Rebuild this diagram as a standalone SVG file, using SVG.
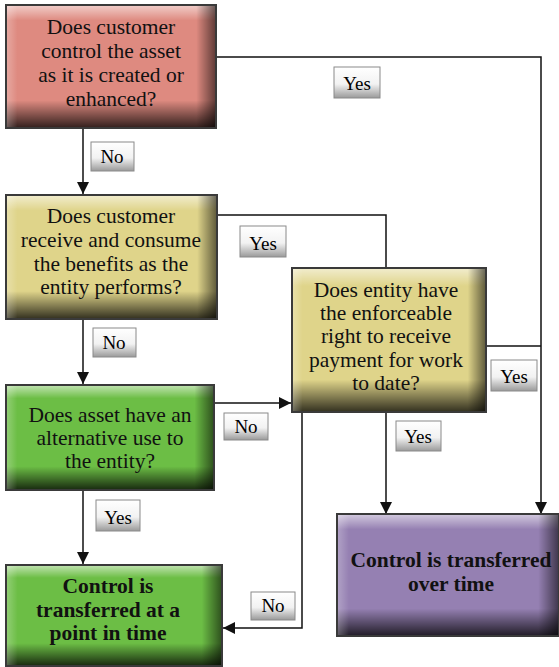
<svg xmlns="http://www.w3.org/2000/svg" width="559" height="667" viewBox="0 0 559 667" font-family="Liberation Serif, DejaVu Serif, Times New Roman, serif">
<style>
.box{stroke:#3a3a3a;stroke-width:2}
.sh{stroke:none;pointer-events:none}
.t{font-size:21.5px;fill:#111;text-anchor:middle}
.b{font-weight:bold}
.lab rect{fill:url(#lg);stroke:#8a8a8a;stroke-width:1}
.lab text{font-size:19px;fill:#000;text-anchor:middle}
.c{fill:none;stroke:#111;stroke-width:1.5}
</style>
<defs>
<linearGradient id="gv" x1="0" y1="0" x2="0" y2="1">
<stop offset="0" stop-color="#fff" stop-opacity="0.55"/>
<stop offset="0.12" stop-color="#fff" stop-opacity="0"/>
<stop offset="0.78" stop-color="#000" stop-opacity="0"/>
<stop offset="1" stop-color="#000" stop-opacity="0.75"/>
</linearGradient>
<linearGradient id="gh" x1="0" y1="0" x2="1" y2="0">
<stop offset="0" stop-color="#fff" stop-opacity="0.25"/>
<stop offset="0.05" stop-color="#fff" stop-opacity="0"/>
<stop offset="0.91" stop-color="#000" stop-opacity="0"/>
<stop offset="1" stop-color="#000" stop-opacity="0.55"/>
</linearGradient>
<linearGradient id="lg" x1="0" y1="0" x2="0" y2="1">
<stop offset="0" stop-color="#ffffff"/>
<stop offset="0.55" stop-color="#f2f2f2"/>
<stop offset="1" stop-color="#9a9a9a"/>
</linearGradient>
<marker id="ah" markerUnits="userSpaceOnUse" markerWidth="12" markerHeight="14" viewBox="0 0 12 14" refX="12" refY="7" orient="auto">
<path d="M0,1 L12,7 L0,13 Z" fill="#111"/>
</marker>
</defs>

<g id="connectors">
<path class="c" d="M216,57 H541 V514" marker-end="url(#ah)"/>
<path class="c" d="M83,128 V194" marker-end="url(#ah)"/>
<path class="c" d="M217,215 H386 V268"/>
<path class="c" d="M83,319 V384" marker-end="url(#ah)"/>
<path class="c" d="M214,403 H291" marker-end="url(#ah)"/>
<path class="c" d="M486,346 H541"/>
<path class="c" d="M386,412 V514" marker-end="url(#ah)"/>
<path class="c" d="M302,412 V628 H223" marker-end="url(#ah)"/>
<path class="c" d="M83,490 V564" marker-end="url(#ah)"/>
</g>

<g id="q1">
<rect class="box" x="6" y="5" width="210" height="123" fill="#de8a80"/>
<rect class="sh" x="7" y="6" width="208" height="121" fill="url(#gv)"/>
<rect class="sh" x="7" y="6" width="208" height="121" fill="url(#gh)"/>
<text class="t" x="111" y="34">Does customer</text>
<text class="t" x="111" y="58">control the asset</text>
<text class="t" x="111" y="82">as it is created or</text>
<text class="t" x="111" y="106">enhanced?</text>
</g>

<g id="q2">
<rect class="box" x="6" y="195" width="211" height="124" fill="#dfd48a"/>
<rect class="sh" x="7" y="196" width="209" height="122" fill="url(#gv)"/>
<rect class="sh" x="7" y="196" width="209" height="122" fill="url(#gh)"/>
<text class="t" x="111" y="223">Does customer</text>
<text class="t" x="111" y="247">receive and consume</text>
<text class="t" x="111" y="271">the benefits as the</text>
<text class="t" x="111" y="294">entity performs?</text>
</g>

<g id="q3">
<rect class="box" x="6" y="385" width="208" height="105" fill="#6cbe45"/>
<rect class="sh" x="7" y="386" width="206" height="103" fill="url(#gv)"/>
<rect class="sh" x="7" y="386" width="206" height="103" fill="url(#gh)"/>
<text class="t" x="110" y="422">Does asset have an</text>
<text class="t" x="110" y="445">alternative use to</text>
<text class="t" x="110" y="468">the entity?</text>
</g>

<g id="q4">
<rect class="box" x="292" y="268" width="194" height="144" fill="#dfd48a"/>
<rect class="sh" x="293" y="269" width="192" height="142" fill="url(#gv)"/>
<rect class="sh" x="293" y="269" width="192" height="142" fill="url(#gh)"/>
<text class="t" x="386" y="297">Does entity have</text>
<text class="t" x="386" y="320">the enforceable</text>
<text class="t" x="386" y="343">right to receive</text>
<text class="t" x="386" y="367">payment for work</text>
<text class="t" x="386" y="390">to date?</text>
</g>

<g id="r1">
<rect class="box" x="6" y="565" width="216" height="101" fill="#6cbe45"/>
<rect class="sh" x="7" y="566" width="214" height="99" fill="url(#gv)"/>
<rect class="sh" x="7" y="566" width="214" height="99" fill="url(#gh)"/>
<text class="t b" x="108" y="593">Control is</text>
<text class="t b" x="108" y="617">transferred at a</text>
<text class="t b" x="108" y="640">point in time</text>
</g>

<g id="r2">
<rect class="box" x="337" y="514" width="222" height="122" fill="#9580b2"/>
<rect class="sh" x="338" y="515" width="220" height="120" fill="url(#gv)"/>
<rect class="sh" x="338" y="515" width="220" height="120" fill="url(#gh)"/>
<text class="t b" x="451" y="567">Control is transferred</text>
<text class="t b" x="451" y="591">over time</text>
</g>

<g id="labels">
<g class="lab"><rect x="334" y="67" width="46" height="31"/><text x="357" y="90">Yes</text></g>
<g class="lab"><rect x="91" y="142" width="43" height="29"/><text x="112" y="163">No</text></g>
<g class="lab"><rect x="240" y="226" width="46" height="31"/><text x="263" y="250">Yes</text></g>
<g class="lab"><rect x="93" y="328" width="43" height="29"/><text x="114" y="349">No</text></g>
<g class="lab"><rect x="224" y="413" width="44" height="27"/><text x="246" y="433">No</text></g>
<g class="lab"><rect x="491" y="360" width="46" height="31"/><text x="514" y="383">Yes</text></g>
<g class="lab"><rect x="396" y="421" width="45" height="30"/><text x="418" y="443">Yes</text></g>
<g class="lab"><rect x="96" y="500" width="44" height="31"/><text x="118" y="524">Yes</text></g>
<g class="lab"><rect x="251" y="592" width="44" height="28"/><text x="273" y="612">No</text></g>
</g>
</svg>
